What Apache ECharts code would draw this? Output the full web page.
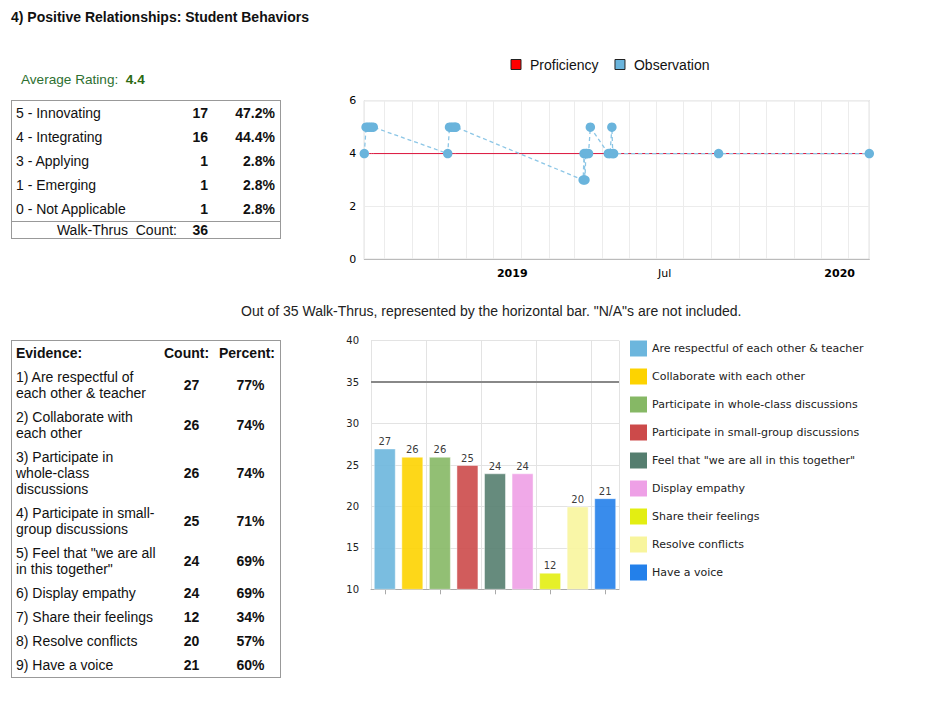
<!DOCTYPE html>
<html>
<head>
<meta charset="utf-8">
<title>Positive Relationships: Student Behaviors</title>
<script src="https://cdn.jsdelivr.net/npm/echarts@6.0.0/dist/echarts.min.js"></script>
<style>
  html, body { margin:0; padding:0; background:#fff; }
  body { width:927px; height:702px; position:relative; overflow:hidden; font-family:"Liberation Sans", Arial, sans-serif; color:#111; }
  #chart { position:absolute; left:0; top:0; width:927px; height:702px; z-index:1; }
  .txt { position:absolute; z-index:2; white-space:nowrap; }
  #title { left:11px; top:9px; font-size:14px; line-height:16px; font-weight:bold; }
  #avg { left:21px; top:72px; font-size:13.6px; line-height:16px; color:#2e7031; white-space:pre; }
  #avg b { color:#2c6a12; }
  #note { left:241px; top:303px; font-size:14px; line-height:16px; color:#222; }
  #ratings { position:absolute; z-index:2; left:11px; top:100px; width:268px; border:1px solid #999; font-size:14px; line-height:16px; background:#fff; }
  #ratings .row { position:relative; height:24px; }
  #ratings .row span { position:absolute; top:4px; white-space:pre; }
  #ratings .lab { left:4px; }
  #ratings .cnt { right:72px; font-weight:bold; }
  #ratings .pct { right:5px; font-weight:bold; }
  #ratings .total { height:16px; border-top:1px solid #999; }
  #ratings .total span { top:0px; }
  #ratings .tlab { right:103px; }
  #evbox { position:absolute; z-index:2; left:11px; top:340px; width:268px; border:1px solid #999; background:#fff; }
  #evidence { width:268px; border-spacing:0; table-layout:fixed; font-size:14px; line-height:16px; }
  #evidence td, #evidence th { padding:4px 0; vertical-align:middle; font-size:14px; line-height:16px; }
  #evidence th { font-weight:bold; }
  #evidence .c1 { padding-left:4px; padding-right:7px; text-align:left; }
  #evidence td.c2 { text-align:center; font-weight:bold; }
  #evidence td.c3 { text-align:center; font-weight:bold; padding-left:2px; }
  #evidence th.c2 { text-align:right; padding-right:10px; white-space:nowrap; }
  #evidence th.c3 { text-align:right; padding-right:6px; white-space:nowrap; }
</style>
</head>
<body>
<div id="chart"></div>
<div id="title" class="txt">4) Positive Relationships: Student Behaviors</div>
<div id="avg" class="txt"></div>
<div id="ratings"></div>
<div id="note" class="txt"></div>
<div id="evbox"><table id="evidence"><colgroup><col style="width:152px"><col style="width:55px"><col style="width:61px"></colgroup><tbody></tbody></table></div>
<script>
// ---------------- data ----------------
const averageRating = '4.4';
const ratingLabels = ['5 - Innovating', '4 - Integrating', '3 - Applying', '1 - Emerging', '0 - Not Applicable'];
const ratingCounts = [17, 16, 1, 1, 1];
const ratingPercents = ['47.2%', '44.4%', '2.8%', '2.8%', '2.8%'];
const walkThrusCount = 36;

const obsDates = [
  '2018-07-10', '2018-07-12', '2018-07-14', '2018-07-16', '2018-07-18', '2018-07-20',
  '2018-10-11', '2018-10-13', '2018-10-15', '2018-10-17', '2018-10-19', '2018-10-20',
  '2019-03-11', '2019-03-12', '2019-03-13', '2019-03-14', '2019-03-15', '2019-03-17', '2019-03-19',
  '2019-04-08', '2019-04-10', '2019-04-12', '2019-04-13', '2019-04-14',
  '2019-08-09', '2020-01-24'
];
const observationValues = [
  4, 5, 5, 5, 5, 5,
  4, 5, 5, 5, 5, 5,
  3, 4, 3, 4, 4, 4, 5,
  4, 4, 5, 4, 4,
  4, 4
];
const proficiencyValues = [
  4, 4, 4, 4, 4, 4,
  4, 4, 4, 4, 4, 4,
  4, 4, 4, 4, 4, 4, 4,
  4, 4, 4, 4, 4,
  4, 4
];
const timeAxisMin = '2018-07-10';
const timeAxisMax = '2020-01-24';
const monthTickLabels = ['YEAR', '', '', '', '', '', 'Jul', '', '', '', '', ''];
const lineYTicks = [0, 2, 4, 6];

const totalWalkThrus = 35;
const behaviorCategories = [
  'Are respectful of each other & teacher',
  'Collaborate with each other',
  'Participate in whole-class discussions',
  'Participate in small-group discussions',
  'Feel that "we are all in this together"',
  'Display empathy',
  'Share their feelings',
  'Resolve conflicts',
  'Have a voice'
];
const behaviorCounts = [27, 26, 26, 25, 24, 24, 12, 20, 21];
const behaviorPercents = ['77%', '74%', '74%', '71%', '69%', '69%', '34%', '57%', '60%'];
const barYTicks = [10, 15, 20, 25, 30, 35, 40];

// ---------------- styles ----------------
const barColors = ['#6cb6dd', '#fdd300', '#86b865', '#cc4a4a', '#557e6f', '#eea0e6', '#e3ee12', '#f8f59d', '#2380ea'];
const chartFont = 'DejaVu Sans, Verdana, sans-serif';

// ---------------- HTML tables ----------------
document.getElementById('avg').innerHTML = 'Average Rating:  <b>' + averageRating + '</b>';
document.getElementById('note').textContent =
  'Out of ' + totalWalkThrus + ' Walk-Thrus, represented by the horizontal bar. "N/A"s are not included.';

const ratingsBox = document.getElementById('ratings');
ratingLabels.forEach(function (lab, i) {
  const row = document.createElement('div');
  row.className = 'row';
  const a = document.createElement('span'); a.className = 'lab'; a.textContent = lab;
  const b = document.createElement('span'); b.className = 'cnt'; b.textContent = ratingCounts[i];
  const c = document.createElement('span'); c.className = 'pct'; c.textContent = ratingPercents[i];
  row.appendChild(a); row.appendChild(b); row.appendChild(c);
  ratingsBox.appendChild(row);
});
(function () {
  const row = document.createElement('div');
  row.className = 'row total';
  const a = document.createElement('span'); a.className = 'tlab'; a.textContent = 'Walk-Thrus  Count:';
  const b = document.createElement('span'); b.className = 'cnt'; b.textContent = walkThrusCount;
  row.appendChild(a); row.appendChild(b);
  ratingsBox.appendChild(row);
})();

const tbody = document.querySelector('#evidence tbody');
(function () {
  const tr = document.createElement('tr');
  [['c1', 'Evidence:'], ['c2', 'Count:'], ['c3', 'Percent:']].forEach(function (p) {
    const th = document.createElement('th'); th.className = p[0]; th.textContent = p[1]; tr.appendChild(th);
  });
  tbody.appendChild(tr);
})();
behaviorCategories.forEach(function (name, i) {
  const tr = document.createElement('tr');
  const t1 = document.createElement('td'); t1.className = 'c1'; t1.textContent = (i + 1) + ') ' + name;
  const t2 = document.createElement('td'); t2.className = 'c2'; t2.textContent = behaviorCounts[i];
  const t3 = document.createElement('td'); t3.className = 'c3'; t3.textContent = behaviorPercents[i];
  tr.appendChild(t1); tr.appendChild(t2); tr.appendChild(t3);
  tbody.appendChild(tr);
});

// ---------------- charts ----------------
const chart = echarts.init(document.getElementById('chart'), null, { renderer: 'svg' });
const DAY = 86400000;

const barSeries = behaviorCategories.map(function (name, i) {
  const s = {
    name: name,
    type: 'bar',
    xAxisIndex: 1,
    yAxisIndex: 1,
    data: behaviorCounts.map(function (v, j) { return j === i ? v : '-'; }),
    barWidth: 22,
    barGap: '-100%',
    clip: true,
    itemStyle: { color: barColors[i], opacity: 0.9, borderColor: 'rgba(255,255,255,0.5)', borderWidth: 1 },
    label: { show: true, position: 'top', distance: 2, fontSize: 10, fontFamily: chartFont, color: '#222' },
    emphasis: { disabled: true }
  };
  if (i === 0) {
    s.markLine = {
      silent: true, symbol: 'none', animation: false,
      label: { show: false },
      lineStyle: { color: '#888', width: 2, type: 'solid' },
      emphasis: { disabled: true },
      data: [{ yAxis: totalWalkThrus }]
    };
  }
  return s;
});

const option = {
  animation: false,
  backgroundColor: 'transparent',
  textStyle: { fontFamily: chartFont },
  legend: [
    {
      left: 510.5, top: 57.5, padding: 0,
      itemWidth: 10, itemHeight: 10, itemGap: 16, icon: 'rect',
      selectedMode: false,
      textStyle: { fontSize: 14, fontFamily: 'Liberation Sans, Arial, sans-serif', color: '#111', padding: [0, 0, 0, 4] },
      data: [
        { name: 'Proficiency', itemStyle: { color: '#ff0000', borderColor: '#222', borderWidth: 1, opacity: 1 } },
        { name: 'Observation', itemStyle: { color: '#6ab4dc', borderColor: '#222', borderWidth: 1, opacity: 1 } }
      ]
    },
    {
      left: 630, top: 340.5, padding: 0, orient: 'vertical',
      itemWidth: 17, itemHeight: 16, itemGap: 12, icon: 'rect',
      selectedMode: false,
      itemStyle: { opacity: 1, borderWidth: 0 },
      textStyle: { fontSize: 11, fontFamily: chartFont, color: '#222' },
      data: behaviorCategories
    }
  ],
  grid: [
    { left: 364.3, top: 100.7, width: 505, height: 158.6, show: true, borderColor: '#bbb', borderWidth: 1, backgroundColor: 'transparent', containLabel: false, outerBoundsMode: 'none' },
    { left: 371, top: 340.7, width: 248, height: 248.6, show: false, containLabel: false, outerBoundsMode: 'none' }
  ],
  xAxis: [
    {
      type: 'time', gridIndex: 0,
      min: timeAxisMin, max: timeAxisMax,
      minInterval: 28 * DAY, maxInterval: 31 * DAY,
      axisLine: { show: true, lineStyle: { color: '#bbb' } },
      axisTick: { show: false },
      splitLine: { show: true, lineStyle: { color: '#ececec', width: 1 } },
      axisLabel: {
        margin: 9, fontSize: 11, color: '#000', fontFamily: chartFont,
        hideOverlap: false, showMinLabel: false, showMaxLabel: false,
        formatter: function (val) {
          const d = new Date(val);
          if (d.getDate() !== 1 || d.getHours() !== 0) return '';
          const lab = monthTickLabels[d.getMonth()];
          if (lab === 'YEAR') return '{y|' + d.getFullYear() + '}';
          if (lab) return '{m|' + lab + '}';
          return '';
        },
        rich: {
          y: { fontWeight: 'bold', fontSize: 11, fontFamily: chartFont, color: '#000', padding: [0, 18, 0, 0] },
          m: { fontSize: 11, fontFamily: chartFont, color: '#000', padding: [0, 38, 0, 0] }
        }
      }
    },
    {
      type: 'category', gridIndex: 1,
      data: behaviorCategories,
      boundaryGap: true,
      axisLine: { show: true, lineStyle: { color: '#aaa' } },
      axisTick: { show: true, alignWithLabel: true, interval: 1, length: 5, lineStyle: { color: '#aaa' } },
      axisLabel: { show: false },
      splitLine: { show: true, interval: 1, lineStyle: { color: '#e3e3e3' } }
    }
  ],
  yAxis: [
    {
      type: 'value', gridIndex: 0,
      min: lineYTicks[0], max: lineYTicks[lineYTicks.length - 1], interval: lineYTicks[1] - lineYTicks[0],
      axisLine: { show: false }, axisTick: { show: false },
      splitLine: { show: true, lineStyle: { color: '#ececec' } },
      axisLabel: { margin: 8, fontSize: 11, color: '#000', fontFamily: chartFont }
    },
    {
      type: 'value', gridIndex: 1,
      min: barYTicks[0], max: barYTicks[barYTicks.length - 1], interval: barYTicks[1] - barYTicks[0],
      axisLine: { show: false }, axisTick: { show: false },
      splitLine: { show: true, lineStyle: { color: '#e3e3e3' } },
      axisLabel: { margin: 12, fontSize: 10, color: '#222', fontFamily: chartFont }
    }
  ],
  series: [
    {
      name: 'Proficiency', type: 'line', xAxisIndex: 0, yAxisIndex: 0,
      data: obsDates.map(function (d, i) { return [d, proficiencyValues[i]]; }),
      symbol: 'none', showSymbol: false,
      itemStyle: { color: '#ff0000' },
      lineStyle: { color: '#dc143c', width: 1, type: 'solid' },
      emphasis: { disabled: true }, z: 2
    },
    {
      name: 'Observation', type: 'line', xAxisIndex: 0, yAxisIndex: 0,
      data: obsDates.map(function (d, i) { return [d, observationValues[i]]; }),
      symbol: 'circle', symbolSize: 9.5, showSymbol: true, showAllSymbol: true,
      itemStyle: { color: '#6ab4dc' },
      lineStyle: { color: '#8cc6e6', width: 1.3, type: [4, 3] },
      emphasis: { disabled: true }, z: 3
    }
  ].concat(barSeries)
};
chart.setOption(option);
</script>
</body>
</html>
